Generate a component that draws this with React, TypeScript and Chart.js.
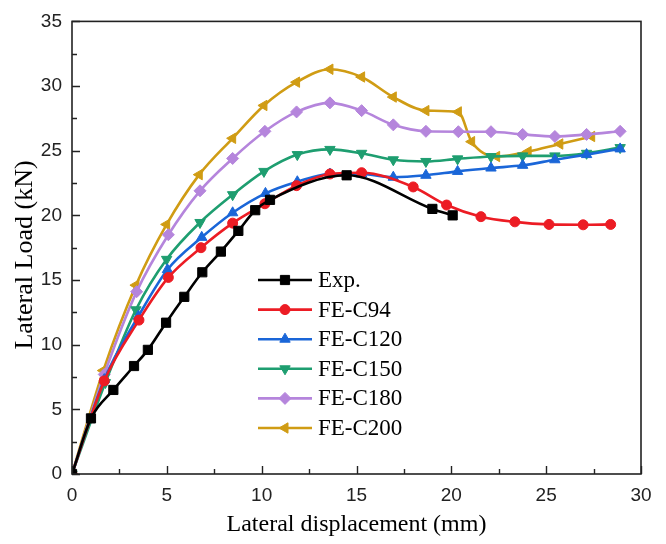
import React, { useEffect, useRef } from 'react';
import { Chart, registerables } from 'chart.js';
import { drawPoint } from 'chart.js/helpers';

Chart.register(...registerables);

// ---- Data ----
const expX = [0, 1.0, 2.18, 3.27, 4.0, 4.96, 5.92, 6.87, 7.85, 8.77, 9.66, 10.44, 14.48, 19.0, 20.07];
const expY = [0, 4.3, 6.5, 8.35, 9.6, 11.7, 13.7, 15.6, 17.2, 18.8, 20.4, 21.2, 23.1, 20.5, 20.0];

const c94X = [0, 1.7, 3.53, 5.08, 6.8, 8.47, 10.17, 11.84, 13.6, 15.27, 17.99, 19.75, 21.56, 23.35, 25.15, 26.95, 28.4];
const c94Y = [0, 7.2, 11.9, 15.2, 17.5, 19.4, 20.9, 22.3, 23.2, 23.3, 22.2, 20.8, 19.9, 19.5, 19.3, 19.27, 19.3];

const c120X = [0, 1.7, 3.5, 5.03, 6.84, 8.47, 10.2, 11.88, 13.6, 15.27, 16.94, 18.66, 20.33, 22.09, 23.76, 25.46, 27.13, 28.9];
const c120Y = [0, 7.3, 12.2, 15.8, 18.3, 20.2, 21.7, 22.6, 23.2, 23.2, 22.95, 23.1, 23.4, 23.66, 23.87, 24.3, 24.7, 25.14];

const c150X = [0, 1.76, 3.37, 4.99, 6.75, 8.47, 10.12, 11.88, 13.6, 15.27, 16.94, 18.66, 20.33, 22.09, 23.76, 25.46, 27.13, 28.9];
const c150Y = [0, 7.07, 12.7, 16.6, 19.45, 21.6, 23.4, 24.7, 25.1, 24.8, 24.3, 24.17, 24.37, 24.55, 24.6, 24.6, 24.8, 25.24];

const c180X = [0, 1.7, 3.41, 5.08, 6.75, 8.47, 10.17, 11.84, 13.6, 15.27, 16.94, 18.66, 20.37, 22.09, 23.76, 25.46, 27.13, 28.9];
const c180Y = [0, 7.7, 14.1, 18.5, 21.9, 24.4, 26.5, 28.0, 28.7, 28.1, 27.0, 26.5, 26.47, 26.47, 26.26, 26.1, 26.26, 26.5];

const c200X = [0, 1.65, 3.37, 4.99, 6.71, 8.47, 10.12, 11.84, 13.6, 15.27, 16.94, 18.66, 20.37, 21.07, 22.39, 24.05, 25.72, 27.4];
const c200Y = [0, 8.0, 14.6, 19.3, 23.15, 25.96, 28.5, 30.3, 31.3, 30.7, 29.15, 28.1, 28.0, 25.7, 24.55, 24.93, 25.52, 26.1];

const seriesNames = ['Exp.', 'FE-C94', 'FE-C120', 'FE-C150', 'FE-C180', 'FE-C200'];
const seriesXs = [expX, c94X, c120X, c150X, c180X, c200X];
const seriesYs = [expY, c94Y, c120Y, c150Y, c180Y, c200Y];
const seriesColors = ['#000000', '#ec1c24', '#1a66d8', '#1e9e70', '#b585dc', '#d09c14'];
const seriesStyles = ['rect', 'circle', 'triangle', 'triangle', 'rectRot', 'triangle'];
const seriesRotations = [0, 0, 0, 180, 0, -90];
const seriesRadii = [6.5, 5, 6, 6, 6, 6];

const xMin = 0, xMax = 30, xStep = 5, xMinor = 2.5;
const yMin = 0, yMax = 35, yStep = 5, yMinor = 2.5;

const xTitle = 'Lateral displacement (mm)';
const yTitle = 'Lateral Load (kN)';

const SANS = '"Liberation Sans", Arial, sans-serif';
const SERIF = '"Liberation Serif", "Times New Roman", serif';

const framePlugin = {
  id: 'frameTicks',
  afterDatasetsDraw(chart: any) {
    const { ctx, chartArea } = chart;
    const { left, right, top, bottom } = chartArea;
    const xs = chart.scales.x;
    const ys = chart.scales.y;
    ctx.save();
    ctx.strokeStyle = '#222';
    ctx.lineWidth = 1.6;
    ctx.strokeRect(left, top, right - left, bottom - top);
    ctx.lineWidth = 1.4;
    ctx.beginPath();
    for (let v = xMin; v <= xMax + 1e-9; v += xMinor) {
      const px = Math.round(xs.getPixelForValue(v)) + 0.5;
      const len = Math.abs(v / xStep - Math.round(v / xStep)) < 1e-6 ? 8 : 5;
      ctx.moveTo(px, bottom);
      ctx.lineTo(px, bottom - len);
    }
    for (let v = yMin; v <= yMax + 1e-9; v += yMinor) {
      const py = Math.round(ys.getPixelForValue(v)) + 0.5;
      const len = Math.abs(v / yStep - Math.round(v / yStep)) < 1e-6 ? 8 : 5;
      ctx.moveTo(left, py);
      ctx.lineTo(left + len, py);
    }
    ctx.stroke();
    ctx.restore();
  },
};

const legendPlugin = {
  id: 'insideLegend',
  afterDraw(chart: any) {
    const { ctx, chartArea } = chart;
    const x0 = chartArea.left + 186;
    const x1 = x0 + 54;
    const tx = x1 + 6;
    const y0 = 280;
    const gap = 29.6;
    ctx.save();
    seriesNames.forEach((name, i) => {
      const y = y0 + i * gap;
      ctx.strokeStyle = seriesColors[i];
      ctx.fillStyle = seriesColors[i];
      ctx.lineWidth = 2.6;
      ctx.beginPath();
      ctx.moveTo(x0, y);
      ctx.lineTo(x1, y);
      ctx.stroke();
      ctx.lineWidth = 1;
      drawPoint(ctx, {
        pointStyle: seriesStyles[i] as any,
        rotation: seriesRotations[i],
        radius: seriesRadii[i],
        borderWidth: 1,
      }, (x0 + x1) / 2, y);
      ctx.fillStyle = '#000';
      ctx.font = `23px ${SERIF}`;
      ctx.textAlign = 'left';
      ctx.textBaseline = 'middle';
      ctx.fillText(name, tx, y + 1);
    });
    ctx.restore();
  },
};

const yTitlePlugin = {
  id: 'yTitle',
  afterDraw(chart: any) {
    const { ctx } = chart;
    ctx.save();
    ctx.translate(25, 255);
    ctx.rotate(-Math.PI / 2);
    ctx.font = `26px ${SERIF}`;
    ctx.fillStyle = '#000';
    ctx.textAlign = 'center';
    ctx.textBaseline = 'middle';
    ctx.fillText(yTitle, 0, 0);
    ctx.restore();
  },
};

export default function App() {
  const canvasRef = useRef<HTMLCanvasElement | null>(null);

  useEffect(() => {
    document.body.style.margin = '0';
    const canvas = canvasRef.current;
    if (!canvas) return;
    const datasets = seriesNames.map((name, i) => ({
      label: name,
      data: seriesXs[i].map((x, j) => ({ x, y: seriesYs[i][j] })),
      borderColor: seriesColors[i],
      backgroundColor: seriesColors[i],
      pointBackgroundColor: seriesColors[i],
      pointBorderColor: seriesColors[i],
      pointStyle: seriesStyles[i] as any,
      rotation: seriesRotations[i],
      pointRadius: seriesRadii[i],
      pointBorderWidth: 1,
      borderWidth: 2.6,
      cubicInterpolationMode: 'monotone' as const,
      tension: 0.3,
      fill: false,
      showLine: true,
    }));

    const chart = new Chart(canvas, {
      type: 'line',
      data: { datasets },
      options: {
        animation: false,
        responsive: false,
        devicePixelRatio: 1,
        layout: { padding: { top: 17, right: 25, left: 0, bottom: 0 } },
        plugins: {
          legend: { display: false },
          tooltip: { enabled: false },
        },
        scales: {
          x: {
            type: 'linear',
            min: xMin,
            max: xMax,
            grid: { display: false, drawTicks: false },
            border: { display: false },
            ticks: {
              stepSize: xStep,
              padding: 10,
              color: '#222',
              font: { family: SANS, size: 19 },
              maxRotation: 0,
            },
            title: {
              display: true,
              text: xTitle,
              color: '#000',
              font: { family: SERIF, size: 24 },
              padding: { top: 0, bottom: 5 },
            },
            afterFit(s: any) { s.height = 70; },
          },
          y: {
            type: 'linear',
            min: yMin,
            max: yMax,
            grid: { display: false, drawTicks: false },
            border: { display: false },
            ticks: {
              stepSize: yStep,
              padding: 10,
              color: '#222',
              font: { family: SANS, size: 19 },
            },
            afterFit(s: any) { s.width = 72; },
          },
        },
      },
      plugins: [framePlugin, legendPlugin, yTitlePlugin],
    });
    return () => chart.destroy();
  }, []);

  return (
    <div style={{ width: 666, height: 544, background: '#fff' }}>
      <canvas ref={canvasRef} width={666} height={544} style={{ display: 'block' }} />
    </div>
  );
}
